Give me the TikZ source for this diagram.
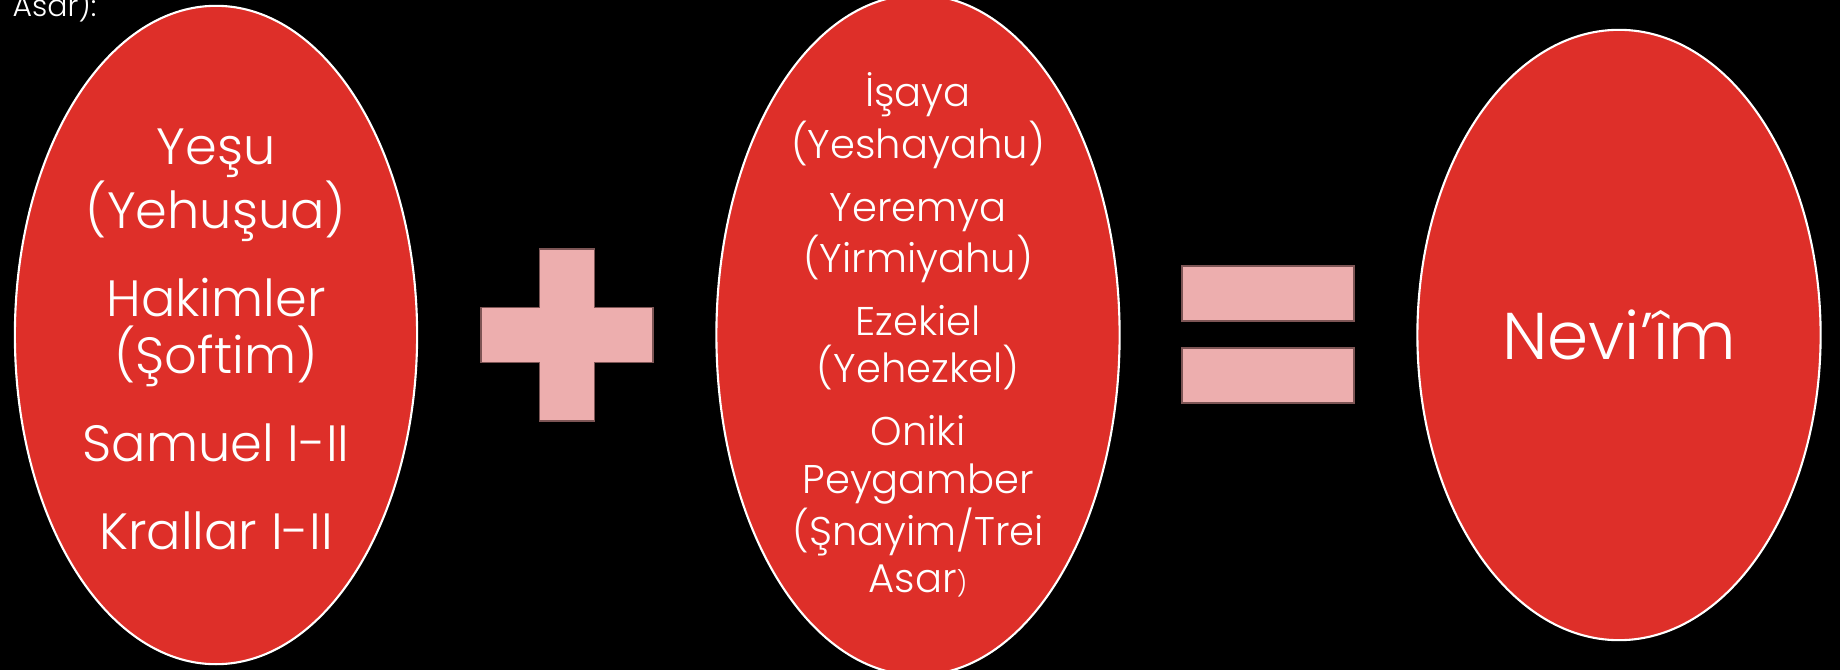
\documentclass[tikz,border=0pt]{standalone}
\usepackage{fontspec}
\setmainfont{Poppins}[UprightFont=* Light]
\usetikzlibrary{positioning,shapes.geometric}
\definecolor{bookred}{RGB}{222,47,41}
\definecolor{signpink}{RGB}{237,174,174}
\definecolor{signedge}{RGB}{125,85,85}

\begin{document}
\begin{tikzpicture}[x=0.01cm, y=-0.01cm,
    book/.style={ellipse, fill=bookred, draw=white, line width=0.6pt, inner sep=0pt},
    booktext/.style={text=white, align=center, inner sep=0pt},
    sign/.style={fill=signpink, draw=signedge, line width=0.3pt}]
    \fill[black] (0,0) rectangle (1840,670);
    \useasboundingbox (0,0) rectangle (1840,670);
    \node[text=white, anchor=base west, inner sep=0pt, font=\fontsize{8.5pt}{10pt}\selectfont] (asar) at (12,17) {Asar):};
    % the three ellipses
    \node[book, minimum width=4.02cm, minimum height=6.58cm] (former) at (216,335) {};
    \node[book, minimum width=4.03cm, minimum height=6.8cm] (latter) at (918,335) {};
    \node[book, minimum width=4.03cm, minimum height=6.1cm] (neviim) at (1619,335) {};
    \node[booktext, font=\fontsize{14.5pt}{16.2pt}\selectfont] (formertext) at ([yshift=-0.04cm]former) {Yeşu\\(Yehuşua)\\[8.8pt]
        Hakimler\\(Şoftim)\\[8.8pt]
        Samuel I-II\\[8.8pt]
        Krallar I-II};
    \node[booktext, font=\fontsize{11.4pt}{13.5pt}\selectfont] (lattertext) at (latter) {İşaya\\(Yeshayahu)\\[4.4pt]
        Yeremya\\(Yirmiyahu)\\[4.4pt]
        Ezekiel\\(Yehezkel)\\[4.4pt]
        Oniki\\Peygamber\\(Şnayim/Trei\\Asar{\fontsize{7pt}{7pt}\selectfont)}};
    \node[booktext, font=\fontsize{18.8pt}{20pt}\selectfont] (neviimtext) at (neviim) {Nevi’îm};
    % plus and equals
    \begin{scope}[shift={(567,335)}]
        \filldraw[sign] (-27.5,-86) -- (27.5,-86) -- (27.5,-27.5) -- (86,-27.5) -- (86,27.5) -- (27.5,27.5)
            -- (27.5,86) -- (-27.5,86) -- (-27.5,27.5) -- (-86,27.5) -- (-86,-27.5) -- (-27.5,-27.5) -- cycle;
    \end{scope}
    \filldraw[sign] (1182,266) rectangle (1354,321);
    \filldraw[sign] (1182,348) rectangle (1354,403);
\end{tikzpicture}
\end{document}
